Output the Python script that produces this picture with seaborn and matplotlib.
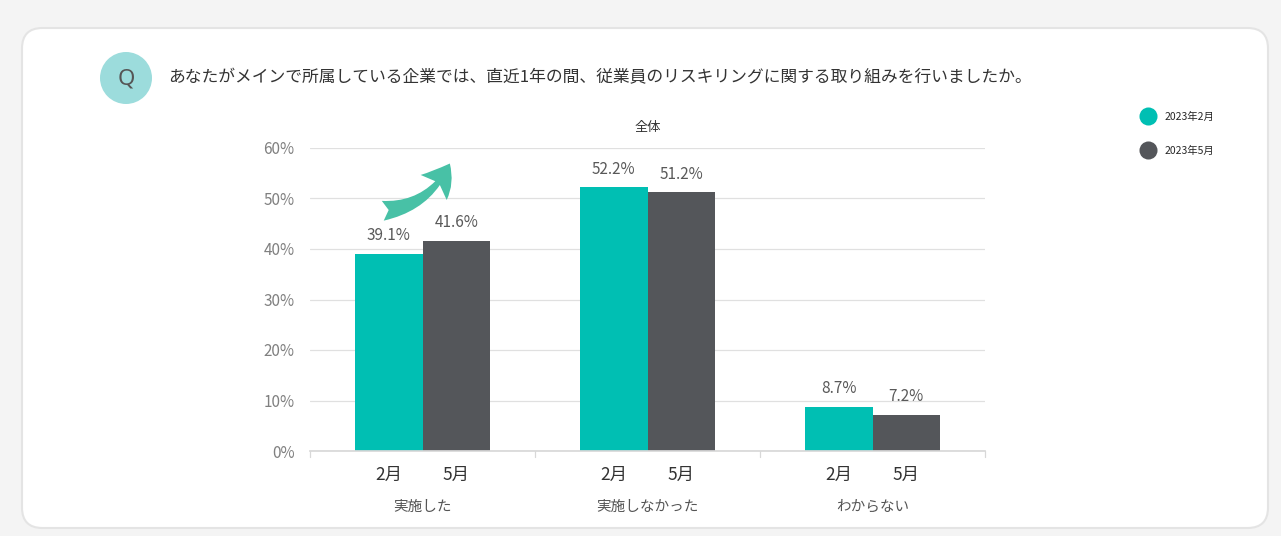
import numpy as np
import pandas as pd
import matplotlib.pyplot as plt
import seaborn as sns
from matplotlib.patches import FancyBboxPatch, Circle, FancyArrowPatch
from matplotlib.lines import Line2D
import matplotlib.transforms as mtransforms

# data
categories = ["実施した", "実施しなかった", "わからない"]
periods = ["2023年2月", "2023年5月"]
period_short = ["2月", "5月"]
feb_values = [39.1, 52.2, 8.7]
may_values = [41.6, 51.2, 7.2]
yticks = [0, 10, 20, 30, 40, 50, 60]

question = "あなたがメインで所属している企業では、直近1年の間、従業員のリスキリングに関する取り組みを行いましたか。"
title = "全体"

colors = ["#00BFB3", "#54565A"]

df = pd.DataFrame({
    "category": categories * 2,
    "period": [periods[0]] * 3 + [periods[1]] * 3,
    "value": feb_values + may_values,
})

sns.set_theme(style="white")
plt.rcParams["font.family"] = ["Noto Sans CJK JP", "DejaVu Sans"]

fig = plt.figure(figsize=(12.81, 5.36), dpi=100)
fig.patch.set_facecolor("#f4f4f4")

# white card
card = FancyBboxPatch((22 / 1281, 8 / 536), 1246 / 1281, 500 / 536,
                      boxstyle="round,pad=0,rounding_size=0.016",
                      transform=fig.transFigure, facecolor="white",
                      edgecolor="#e4e4e4", linewidth=1.5, zorder=-2,
                      mutation_aspect=1281 / 536)
fig.patches.append(card)

# Q badge
fig.patches.append(Circle((1.26, 4.58), 0.26, transform=fig.dpi_scale_trans,
                          facecolor="#9CDCDC", edgecolor="none", zorder=2))
fig.text(1.26 / 12.81, 4.575 / 5.36, "Q", ha="center", va="center",
         fontsize=16, color="#555555", family=["Noto Sans", "DejaVu Sans"],
         zorder=3)
fig.text(168 / 1281, 1 - 78 / 536, question, ha="left", va="center",
         fontsize=12.1, color="#333333")

ax = fig.add_axes([310 / 1281, 85 / 536, 675 / 1281, 303 / 536])
sns.barplot(data=df, x="category", y="value", hue="period", order=categories,
            hue_order=periods, palette=colors, width=0.6, saturation=1,
            linewidth=0, legend=False, ax=ax)

for cont in ax.containers:
    ax.bar_label(cont, fmt="%.1f%%", padding=7, fontsize=11, color="#595959")

ax.set_ylim(0, 60)
ax.set_xlim(-0.5, len(categories) - 0.5)
ax.set_yticks(yticks)
ax.set_yticklabels([f"{v}%" for v in yticks])
ax.tick_params(axis="y", length=0, pad=11, labelsize=11, labelcolor="#808080")
ax.yaxis.grid(True, color="#e0e0e0", linewidth=0.9)
ax.set_axisbelow(True)
for s in ["left", "right", "top"]:
    ax.spines[s].set_visible(False)
ax.spines["bottom"].set_color("#d8d8d8")

# category labels (major) and month labels (minor)
x = np.arange(len(categories))
ax.set_xticks(x)
ax.set_xticklabels(categories)
ax.tick_params(axis="x", which="major", length=0, pad=35, labelsize=10.5,
               labelcolor="#555555")
minor_pos = np.concatenate([x - 0.15, x + 0.15])
minor_lab = [period_short[0]] * len(x) + [period_short[1]] * len(x)
ax.set_xticks(minor_pos, minor=True)
ax.set_xticklabels(minor_lab, minor=True)
ax.tick_params(axis="x", which="minor", length=0, pad=11, labelsize=12.5,
               labelcolor="#333333")
ax.set_xlabel("")
ax.set_ylabel("")

# group separators below the baseline
trans = mtransforms.blended_transform_factory(ax.transData, ax.transAxes)
for b in np.arange(len(categories) + 1) - 0.5:
    ax.plot([b, b], [0, -0.02], transform=trans, color="#d8d8d8",
            linewidth=0.9, clip_on=False)

ax.set_title(title, fontsize=9.5, color="#333333", pad=12)

# legend
handles = [Line2D([], [], marker="o", linestyle="none", markersize=13,
                  markerfacecolor=c, markeredgecolor="none") for c in colors]
fig.legend(handles, periods, loc="upper left",
           bbox_to_anchor=(1132 / 1281, 1 - 102 / 536), frameon=False,
           fontsize=7.5, labelspacing=2.3, handletextpad=1.0, handlelength=1.2)

# rising arrow
arrow = FancyArrowPatch((380 / 1281, 1 - 211 / 536), (451 / 1281, 1 - 161 / 536),
                        transform=fig.transFigure,
                        connectionstyle="arc3,rad=0.3",
                        arrowstyle="fancy,head_length=0.8,head_width=1.0,tail_width=0.55",
                        mutation_scale=26, color="#48C1A6", linewidth=0,
                        zorder=5)
fig.patches.append(arrow)

fig.savefig("out.png", dpi=100, facecolor=fig.get_facecolor())
